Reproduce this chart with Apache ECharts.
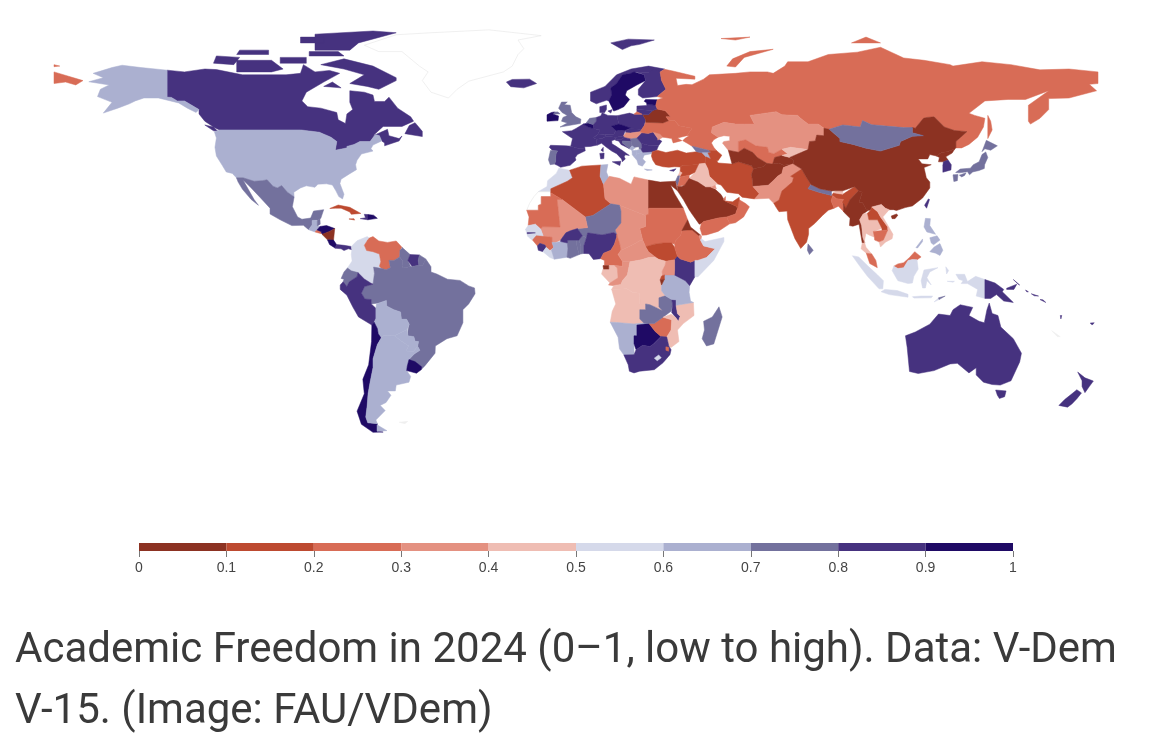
<!DOCTYPE html>
<html>
<head>
<meta charset="utf-8">
<title>Academic Freedom in 2024</title>
<script src="https://cdn.jsdelivr.net/npm/echarts@6/dist/echarts.min.js"></script>
<style>
  html, body { margin: 0; padding: 0; background: #fff; }
  #chart { width: 1161px; height: 755px; }
</style>
</head>
<body>
<div id="chart"></div>
<script>
// scores, one mid-bin value per country
const americasNames = ['Canada','United States','Mexico','Guatemala','Belize','El Salvador','Honduras','Nicaragua','Costa Rica','Panama','Cuba','Haiti','Dominican Republic','Jamaica','Colombia','Venezuela','Guyana','Suriname','French Guiana','Brazil','Ecuador','Peru','Bolivia','Paraguay','Chile','Argentina','Uruguay']
const americasScores = [0.85,0.65,0.75,0.65,0.75,0.25,0.95,0.05,0.95,0.85,0.15,0.85,0.95,0.15,0.55,0.25,0.75,0.85,0.75,0.75,0.75,0.85,0.65,0.65,0.95,0.65,0.95]

const europeNames = ['Iceland','Norway','Sweden','Finland','Denmark','United Kingdom','Ireland','France','Spain','Portugal','Belgium','Netherlands','Luxembourg','Germany','Switzerland','Austria','Italy','Poland','Czechia','Slovakia','Hungary','Slovenia','Croatia','Bosnia','Serbia','Montenegro','Albania','North Macedonia','Greece','Bulgaria','Romania','Moldova','Ukraine','Belarus','Lithuania','Latvia','Estonia','Russia','Cyprus']
const europeScores = [0.85,0.85,0.95,0.85,0.85,0.75,0.95,0.85,0.85,0.75,0.95,0.75,0.85,0.85,0.85,0.85,0.85,0.85,0.95,0.85,0.35,0.85,0.85,0.75,0.75,0.65,0.65,0.65,0.65,0.85,0.85,0.35,0.25,0.05,0.85,0.85,0.95,0.25,0.85]

const asiaNames = ['Turkey','Georgia','Armenia','Azerbaijan','Iran','Iraq','Syria','Lebanon','Israel','Jordan','Saudi Arabia','Yemen','Oman','UAE','Qatar','Kuwait','Kazakhstan','Uzbekistan','Turkmenistan','Tajikistan','Kyrgyzstan','Afghanistan','Pakistan','India','Nepal','Bhutan','Bangladesh','Sri Lanka','China','Mongolia','North Korea','South Korea','Japan','Taiwan','Myanmar','Thailand','Laos','Vietnam','Cambodia','Malaysia','Indonesia','Philippines','Timor-Leste']
const asiaScores = [0.15,0.75,0.65,0.15,0.15,0.45,0.15,0.45,0.75,0.25,0.05,0.25,0.25,0.15,0.25,0.35,0.35,0.25,0.05,0.05,0.45,0.05,0.35,0.15,0.75,0.45,0.25,0.75,0.05,0.75,0.05,0.85,0.75,0.85,0.05,0.45,0.15,0.45,0.25,0.25,0.55,0.65,0.75]

const africaNames = ['Morocco','Algeria','Tunisia','Libya','Egypt','Sudan','South Sudan','Chad','Niger','Mali','Mauritania','Senegal','Gambia','Guinea-Bissau','Guinea','Sierra Leone','Liberia','Ivory Coast','Ghana','Togo','Benin','Burkina Faso','Nigeria','Cameroon','Equatorial Guinea','Central African Republic','Gabon','Congo','DR Congo','Angola','Namibia','Botswana','Zimbabwe','Zambia','Malawi','Mozambique','Tanzania','Kenya','Uganda','Rwanda','Burundi','Ethiopia','Eritrea','Djibouti','Somalia','Madagascar','South Africa','Lesotho','Eswatini']
const africaScores = [0.55,0.15,0.65,0.35,0.05,0.25,0.15,0.35,0.75,0.35,0.25,0.55,0.85,0.55,0.25,0.85,0.55,0.65,0.75,0.75,0.75,0.85,0.85,0.25,0.05,0.35,0.45,0.35,0.45,0.45,0.65,0.95,0.25,0.75,0.85,0.45,0.65,0.85,0.35,0.15,0.05,0.25,0.05,0.35,0.55,0.75,0.85,0.55,0.25]

const oceaniaNames = ['Australia','New Zealand','Papua New Guinea','Solomon Islands','Vanuatu','Fiji']
const oceaniaScores = [0.85,0.85,0.85,0.85,0.85,0.85]

// no score in the source, drawn pale or as outline only
const outlineOnlyNames = ['Greenland','Western Sahara','Kosovo']
const paleNames = ['Falkland Islands','New Caledonia']

const binColors = ['#8c3222','#bd4a30','#d86c56','#e49181','#efbdb3','#d5d9ea','#abb0d0','#73719d','#46327f','#1f0a65']
const binEdges = [0,0.1,0.2,0.3,0.4,0.5,0.6,0.7,0.8,0.9,1]

// country outlines as lon,lat rings; | starts a new polygon, # a hole in the last one
const countryOutlines = {
  Canada:'-141,69.6 -135,69 -128,70 -124,69.8 -115,68 -108,68 -100,68 -95,68.5 -94,71.5 -90,69 -85,69.5 -81.5,68.5 -87,65.5 -93,62 -94.5,59 -92.5,57 -88,56.5 -82.5,55 -82,52.5 -79.5,51.2 -79,54.5 -77,56 -78,58.5 -78,62.5 -73,62 -70,61 -69.5,58.8 -66,58.8 -64.5,60.3 -61.5,56.5 -57,53.5 -56,52 -60,50.2 -66.5,50.2 -70,47 -65,49.2 -64.5,47 -61,46 -60,46.9 -61,45.2 -66,43.5 -66,44.5 -67,45.2 -67.8,47 -69.2,47.4 -71,45 -74.5,45 -76.5,44 -79,43.3 -79,42.8 -83,42 -82.5,45 -84.5,46.5 -88.5,48.2 -95,49 -123,49 -125,50 -128,52 -130,54.5 -130,56 -135,59 -137.5,59 -139.5,60.2 -141,60.3|-62,66 -68,63 -72,64 -78,65 -73,68 -80,70 -88,71.5 -80,73.5 -70,71 -62,67|-117,69 -105,69 -101,70 -105,73 -117,73|-125,72 -118,71.5 -116,74 -124,74.5|-90,76.5 -78,76.5 -75,79 -62,82.5 -70,83.1 -90,82|-92,74.5 -80,74.5 -82,76 -92,76|-102,72 -93,72 -93,74 -102,74|-117,75 -106,75 -106,76.5 -116,76.5|-95,79 -87,79 -87,81 -95,81|-87,64 -81,63.5 -84,65.5|-59,47.7 -53,46.7 -53,48.5 -55.5,51.5 -57.5,50.5|-128,50.7 -125,50 -123.5,48.5 -125,48.7',
  'United States':'-124.7,48.4 -123,49 -95,49 -88.5,48.2 -84.5,46.5 -82.5,45 -83,42 -79,42.8 -79,43.3 -76.5,44 -74.5,45 -71,45 -69.2,47.4 -67.8,47 -67,45.2 -70,43.8 -70.7,42.5 -70,41.7 -74,40.7 -75.5,38.5 -76,37 -75.7,35.3 -78,33.9 -81,32 -81.4,30.5 -80,26.8 -80.5,25.2 -81.8,26 -82.8,28 -84,30 -86,30.4 -89,30.3 -90,29.2 -93,29.7 -95,29 -97.3,27.5 -97.2,25.9 -99.5,27.5 -101.5,29.8 -103,29 -104.5,29.6 -106.5,31.8 -108.2,31.5 -111,31.3 -114.8,32.5 -117.1,32.5 -118.5,34 -120.6,34.5 -122,36.8 -124,40 -124.5,43 -124,46.2|-141,69.6 -141,60.3 -139.5,60.2 -137.5,59 -135,59 -130,56 -131,55 -134,56.5 -137,58.3 -144,60 -149,60 -152,59 -154,58 -158,56.5 -163,54.8 -160,58.5 -165,60.5 -164,63 -161,64.5 -168,65.6 -163,67 -166.5,68.5 -160,70.5 -156.5,71.3 -150,70.5',
  Greenland:'-73,78.2 -68,76 -60,76 -54,71 -51,69 -53,66 -50,62 -44,60 -41,63 -37,65.8 -25,69 -22,71 -20,75 -18,77 -20,80 -12,81.5 -30,83.5 -50,82.5 -62,81.8',
  Mexico:'-117.1,32.5 -114.8,32.5 -111,31.3 -108.2,31.5 -106.5,31.8 -104.5,29.6 -103,29 -101.5,29.8 -99.5,27.5 -97.2,25.9 -97.8,22.5 -96,19 -94.5,18.2 -91.5,18.6 -90.5,21 -87,21.5 -88,18.5 -89,17.9 -91,17.8 -91,16.2 -92.2,14.6 -94,16.1 -98,16 -102,18 -105.5,20 -105.5,22 -109,25.8 -112.5,29.5 -114.8,31.7 -113,28.5 -111,25 -109.5,23 -112,25 -115,28.5 -116.5,31',
  Guatemala:'-92.2,14.6 -91,16.2 -91,17.8 -89.2,17.8 -89.2,15.9 -88.3,15.7 -89.3,14.5 -90,13.8',
  Belize:'-89.2,17.8 -88.3,18.4 -88.2,16.5 -89.2,15.9',
  'El Salvador':'-90,13.8 -89.3,14.5 -87.8,13.9 -87.8,13.2',
  Honduras:'-89.3,14.5 -88.3,15.7 -86,16 -83.2,15 -85,14 -87.3,13 -87.8,13.4 -87.8,13.9',
  Nicaragua:'-87.6,13 -85,14 -83.2,15 -83.6,11 -85.7,11.1',
  'Costa Rica':'-85.7,11.1 -83.6,11 -82.6,9.5 -83,8.2 -85,9.5',
  Panama:'-83,8.2 -82.6,9.5 -80,9.2 -77.5,8.8 -77.3,7.7 -78.5,8 -80,7.4 -81,8',
  Cuba:'-84.9,21.9 -82,23.1 -78,22.3 -74.2,20.2 -77.5,19.9 -78,20.7 -81,22 -83,22',
  Haiti:'-74.4,18.4 -71.8,18 -71.7,19.8 -73,19.9 -72.6,18.7',
  'Dominican Republic':'-71.8,18 -68.5,18.5 -69.8,19.6 -71.7,19.8',
  Jamaica:'-78.3,18.3 -76.3,17.9 -76.6,18.4',
  Colombia:'-77.3,7.7 -77.5,8.8 -75.5,10.8 -72,12.2 -71.3,11.7 -72.5,10 -73,9.2 -72.2,7.4 -70,7 -67.8,6.2 -67.3,3.5 -67.8,2 -67,1.2 -69.8,1.7 -69.5,-0.5 -70,-4.2 -70.8,-3.8 -73,-2.4 -75.2,-0.2 -77.5,0.4 -78.8,1.4 -77.2,3.8 -77.5,6',
  Venezuela:'-71.3,11.7 -70,12.2 -68,10.7 -65,10.2 -62,10.7 -60,8.5 -59.9,8.3 -60.7,7.5 -60.8,5.2 -62.8,4 -64.5,4 -64,1.5 -65.5,0.8 -67,1.2 -67.8,2 -67.3,3.5 -67.8,6.2 -70,7 -72.2,7.4 -73,9.2 -72.5,10#-72,10.9 -71.2,10.9 -71,9.5 -71.8,9.3',
  Guyana:'-60,8.5 -57.2,6 -58,4 -57,1.9 -59.5,1.4 -60,2 -59.8,4 -60.8,5.2 -60.7,7.5 -59.9,8.3',
  Suriname:'-57.2,6 -54,5.9 -54.4,4 -54.2,2.3 -56.5,1.9 -58,4',
  'French Guiana':'-54,5.9 -51.8,4.5 -52.9,2.2 -54.2,2.3 -54.4,4',
  Brazil:'-51.8,4.5 -50,1.8 -50,0 -48,-0.7 -44.3,-2.5 -40,-2.9 -37,-4.8 -35,-5.5 -34.8,-7.5 -37,-11 -39,-13 -39,-17.5 -41,-22 -44.5,-23 -48.5,-25.5 -48.6,-28 -52,-32.2 -53.4,-33.7 -53.2,-32.7 -55.5,-30.9 -57.6,-30.2 -55.8,-28.3 -53.8,-27 -54.6,-25.6 -54.3,-24 -55.5,-23.9 -55.9,-22.3 -58,-22 -57.9,-20 -58.2,-19.8 -57.5,-18 -58.4,-16.3 -60.2,-16.3 -60.5,-13.8 -62.8,-13 -65.3,-11.7 -65.4,-9.8 -68,-10.7 -70.6,-11 -70.6,-9.5 -72.8,-9.3 -74,-7.3 -72.9,-5 -70,-4.2 -69.5,-0.5 -69.8,1.7 -67,1.2 -65.5,0.8 -64,1.5 -64.5,4 -62.8,4 -60.8,5.2 -59.8,4 -60,2 -59.5,1.4 -57,1.9 -56.5,1.9 -54.2,2.3 -52.9,2.2',
  Ecuador:'-78.8,1.4 -77.5,0.4 -75.2,-0.2 -75.5,-1.6 -78.2,-3.4 -79,-5 -80.3,-3.4 -80,-2.5 -81,-2.2 -80,0',
  Peru:'-80.3,-3.4 -79,-5 -78.2,-3.4 -75.5,-1.6 -75.2,-0.2 -73,-2.4 -70.8,-3.8 -70,-4.2 -72.9,-5 -74,-7.3 -72.8,-9.3 -70.6,-9.5 -70.6,-11 -69,-12.5 -69,-16 -69.6,-17.3 -70.4,-18.3 -75,-15.5 -77,-12 -79,-8 -81.3,-6 -81.3,-4.5',
  Bolivia:'-69,-16 -69,-12.5 -68.8,-11 -65.4,-9.8 -65.3,-11.7 -62.8,-13 -60.5,-13.8 -60.2,-16.3 -58.4,-16.3 -57.5,-18 -58.2,-19.8 -62.6,-22 -64,-22 -66.2,-21.8 -67.2,-22.8 -68.2,-21.3 -68.5,-19.5 -69.6,-17.3',
  Paraguay:'-58.2,-19.8 -57.9,-20 -58,-22 -55.9,-22.3 -55.5,-23.9 -54.3,-24 -54.6,-25.6 -56,-27.3 -58.6,-27.2 -57.7,-25.5 -60,-24 -62.6,-22',
  Chile:'-69.6,-17.3 -68.5,-19.5 -68.2,-21.3 -67.2,-22.8 -68.5,-25 -70,-30 -70,-33 -71,-38 -71.7,-42 -72,-46 -72.5,-50 -71.8,-52 -68.5,-52.3 -68.6,-54.9 -66.5,-55.2 -70,-55.3 -74,-52.5 -75.5,-48 -73,-42 -73.5,-37 -71.5,-32 -70.5,-24 -70.4,-18.3',
  Argentina:'-66.2,-21.8 -64,-22 -62.6,-22 -60,-24 -57.7,-25.5 -58.6,-27.2 -56,-27.3 -54.6,-25.6 -53.8,-27 -55.8,-28.3 -57.6,-30.2 -58.2,-32.5 -58.4,-34 -57,-36 -57.6,-38 -62,-39 -62.3,-41 -65,-41 -63.8,-42.5 -65.5,-45 -67.5,-46 -65.8,-47.8 -69,-51 -68.5,-52.3 -71.8,-52 -72.5,-50 -72,-46 -71.7,-42 -71,-38 -70,-33 -70,-30 -68.5,-25 -67.2,-22.8|-68.6,-52.7 -65.2,-54.7 -68.6,-54.9',
  Uruguay:'-57.6,-30.2 -55.5,-30.9 -53.2,-32.7 -53.4,-33.7 -55,-34.9 -58.4,-34 -58.2,-32.5',
  'Falkland Islands':'-61,-51.8 -58,-51.5 -59,-52.3',
  Iceland:'-24,65.5 -22,66.4 -16,66.5 -13.6,65 -18,63.5 -22.5,63.9',
  Norway:'5,59 7,58 10.5,59.2 11.3,59 12.3,61 12,63.5 14,65 16,68 19,68.5 21,69 25,68.8 29,69 30.5,70 25,71 19,70 14,68 10,64 5,62|12,79 16,76.7 19,78 22,78.5 27,80 18,80.3',
  Sweden:'11.3,59 13,55.5 14.5,56 16.5,57 18.5,59.5 17,61 17.5,62.5 21,64.5 24,66 23.5,68 20,69 19,68.5 16,68 14,65 12,63.5 12.3,61',
  Finland:'24,66 21.5,63 21.5,61 23,60 28,60.5 31,63 29.5,66 29,69 27,70 25,68.8 21,69 23.5,68',
  Denmark:'8.2,55 8.2,57 10.5,57.6 10.5,56 9.8,54.9|11,55.5 12.5,56 12,54.8',
  'United Kingdom':'-5.5,50 1.5,51.2 1.7,52.7 0,53.5 -1.5,55 -2,57.5 -4,57.7 -3,58.6 -5,58.6 -6,56.5 -4.8,55 -3,54 -4.5,53.3 -5,52 -3,51.4|-8,54.5 -5.5,54.5 -6.2,55.2 -7.5,55.2',
  Ireland:'-10,52 -6.2,52.2 -6,53.8 -6.2,54.1 -8,54.5 -7.5,55.2 -8.5,55 -10,54.2',
  France:'-1.8,43.4 -1.2,46 -4.7,48.4 -1.5,48.7 0,49.5 2.5,51 4.2,50 6,49.5 8.2,49 7.6,47.6 6,46.3 7,45.8 7,44.2 7.5,43.8 5,43.3 3,43.2 3.1,42.4 0.7,42.7|8.6,42 9.4,43 9.4,41.5',
  Spain:'-9.2,43 -8.8,43.7 -3.5,43.5 -1.8,43.4 0.7,42.7 3.1,42.4 3.2,41.8 0.5,40.5 -0.3,39.4 0,38.6 -2,36.8 -5.3,36.1 -6.3,36.7 -7.4,37.2 -7,38.2 -7,39.7 -6.8,41 -6.3,41.7 -8.2,42',
  Portugal:'-8.8,41.9 -6.3,41.7 -6.8,41 -7,39.7 -7,38.2 -7.4,37.2 -8.9,37 -9.5,38.7',
  Belgium:'2.5,51 4.2,51.4 6,50.8 6,49.5 4.2,50',
  Netherlands:'3.5,51.4 4.7,53 7,53.3 7,52 6,50.8 4.2,51.4',
  Germany:'6,50.8 7,52 7,53.3 8.6,53.9 9,54.9 11,54 14.2,53.9 14.7,51 12.2,50.3 13.8,48.7 13,47.5 7.6,47.6 8.2,49 6,49.5',
  Luxembourg:'5.8,49.5 6.4,49.5 6.1,50.1',
  Switzerland:'6,46.3 7.6,47.6 9.6,47.5 10.4,46.8 9,46 7,45.8',
  Austria:'9.6,47.5 13,47.5 13.8,48.7 15,49 17,48.8 16.3,46.9 13.8,46.5 10.4,46.8',
  Italy:'7,45.8 9,46 10.4,46.8 13.8,46.5 13.6,45.7 12.3,45.3 12.4,44.2 13.6,43.5 16,41.9 18.4,40.2 17,40.4 16.6,39.7 17,39 16,38 15.7,39 14,40.8 12.3,41.7 10.5,43 8.8,44.4 7.5,43.8 7,44.2|12.5,38 15.5,38.2 15.1,36.7|8.2,40.9 9.7,41 9.6,39.1 8.5,39',
  Poland:'14.2,53.9 18.5,54.8 19.8,54.4 23,54.3 24,52.5 23.5,50.4 22.6,49.1 19,49.4 14.7,51',
  Czechia:'12.2,50.3 14.7,51 16.5,50.4 18.8,49.6 17,48.8 15,49 13.8,48.7',
  Slovakia:'17,48.8 18.8,49.6 19,49.4 22.5,49.1 22.1,48.4 18.8,47.9 17.2,48',
  Hungary:'16.3,46.9 17.2,48 18.8,47.9 22.1,48.4 22.8,48 21,46.2 18.8,45.9 16.6,46.4',
  Slovenia:'13.6,45.5 13.8,46.5 16.3,46.9 16.6,46.4 15.5,45.7',
  Croatia:'13.6,45.5 15.5,45.7 16.6,46.4 18.8,45.9 19,45 16,45.2 16,44.5 18.5,42.5 15.5,44 14.8,45.1',
  Bosnia:'16,45.2 19,45 19.3,43.5 18.5,42.5 16,44.5',
  Serbia:'19,45 18.8,45.9 21,46.2 22.6,44.3 22.8,43 22.4,42.3 21.7,42.3 21.5,43 20.3,42.8 19.3,43.5',
  Kosovo:'20.3,42.8 21.5,43 21.7,42.3 20.6,41.9',
  Montenegro:'18.5,42.5 19.3,43.5 20.3,42.8 19.3,41.9',
  Albania:'19.3,41.9 20.6,41.9 21,40.8 20.1,39.6 19.4,40.4',
  'North Macedonia':'20.6,41.9 22.4,42.3 23,41.3 21,40.8',
  Greece:'21,40.8 23,41.3 26.3,41.5 26,40.8 23.5,40.3 23,39 24,38 22.9,36.5 21.5,37 21,38.5 20.1,39.6|23.6,35.5 26.3,35.2 24.5,35',
  Bulgaria:'22.6,44.3 25,43.7 28.5,43.6 27.8,42 26.3,41.5 23,41.3 22.4,42.3 22.8,43',
  Romania:'21,46.2 22.8,48 24.9,47.8 26.6,48.3 28.2,46 29.6,45.1 28.6,43.7 25,43.7 22.6,44.3',
  Moldova:'26.6,48.3 29,47.6 30,46.5 28.2,45.5 28.2,46',
  Ukraine:'23.5,50.4 24,51.6 30,51.4 32,52.2 34,52.2 35.5,50.4 40,49.6 38.2,47 35,46.2 36.5,45.3 33.5,44.5 33,46 30.7,46.4 30,46.5 29,47.6 26.6,48.3 24.9,47.8 22.8,48 22.1,48.4 22.6,49.1',
  Belarus:'23,54.3 24,52.5 24,51.6 30,51.4 32,52.2 31,53.5 32.7,53.5 30.8,55.6 28,56.2 26.5,55.7 25,54.2',
  Lithuania:'21,56 26.5,55.7 25,54.2 23,54.3 22.8,54.4 21,55.3',
  Latvia:'21,56 21,57.2 24.4,57.4 24.4,57.9 27.5,57.5 28,56.2 26.5,55.7',
  Estonia:'23.5,58.9 24.4,58.3 24.4,57.9 27.5,57.5 28,59.4 24,59.5',
  Russia:'28,59.4 27.5,57.5 28,56.2 30.8,55.6 32.7,53.5 31,53.5 32,52.2 34,52.2 35.5,50.4 40,49.6 38.2,47 39,47 37.5,46 36.8,45.3 38.5,44.3 40,43.4 43.5,42.5 46,41.9 48.5,41.8 47.5,43 46.7,44.5 47.5,45.6 49,46.5 46.7,48 47,50 48.5,50.6 51,51.6 55,51 58,51 61.5,51 60,54 69,55.3 71,54.2 76.5,54 77,53.4 80,51 83.5,51 85.5,49.6 87.3,49.2 92,50.7 98,50 98.8,52.2 102,50.8 106,50.4 113,49.8 117,49.6 119.8,53 121,53.3 123.5,53.5 127,50 130.5,48.8 134.8,48.4 131,45 131,42.8 133,42.8 135.5,44 138.5,46.5 140.5,50 141,53 137.5,54 135.5,54.7 141,59 149,59.5 155,59.5 163,62.5 156,57.5 156,52 156.7,51 160,53 163,56 163,59.8 170,60 179.5,62.5 177,64.7 180,65 180,69 170,70 160,69.7 150,71.5 140,72.5 130,71 129,71.5 120,73 113,73.8 105,77.5 97,75.8 87,75 80,72.5 73,72.5 72,71 68,68.5 66,69 60,69 55,68.5 46,68 44,66.5 40,64.6 38,64.7 35,64.3 34.5,66.8 41,66.5 41,67.5 33,69.4 30.5,69.9 29,69 29.5,66 31,63 28,60.5 30,60|20,54.4 22.8,54.4 21,55.3|142,54 143,52 143.5,49 142,46 142,50|52,71 55,70.7 58,74 68,76.8 60,76 54,73.5|95,79 105,79 100,81|-180,65 -180,69 -175,67.5 -170,66 -172.5,64.5 -176,65.5|-180,71.5 -178,71 -180,70.8|50,80.5 60,81 55,80',
  Cyprus:'32.3,35 34.5,35.6 33.7,34.7',
  Turkey:'26.3,41.5 28,42 31,41.2 35,42 38,41 41.5,41.5 43.5,41.1 44.8,39.7 44.5,37.5 42.3,37.2 40,36.9 36.7,36.8 36,36.2 34,36.3 32,36.1 30,36.3 27.5,37 26.5,38.5 26,40',
  Georgia:'40,43.4 43.5,42.5 46,41.9 46.5,41.2 43.5,41.1 41.5,41.5',
  Armenia:'43.5,41.1 45.5,41 46.5,39 44.8,39.7',
  Azerbaijan:'46.5,41.2 46,41.9 48.5,41.8 50.3,40.3 49,38.4 46.5,39 45.5,41',
  Iran:'44.8,39.7 46.5,39 48,39.5 49,37.6 53.8,37.2 56,38 60.5,36.6 61.2,35.6 60.5,33.6 60.9,31.5 61,29.5 63.2,27 61.6,25.2 57.3,25.8 56,27 52,27.5 50,30 48.7,30.4 46,33 45.5,35.5 44.5,37.5',
  Iraq:'42.3,37.2 44.5,37.5 45.5,35.5 46,33 48.7,30.4 48,29.9 46.5,29.2 44.7,29.2 42,31 39,32.2 41,34.4',
  Syria:'36,36.2 36.7,36.8 40,36.9 42.3,37.2 41,34.4 39,33.4 36,32.8 35.9,34.6',
  Lebanon:'35.1,33.1 36,33.3 36.6,34.2 35.9,34.6',
  Israel:'34.3,31.3 35,29.5 35.6,31.5 35.7,33.2 35.1,33.1',
  Jordan:'35,29.5 37.5,30 39,32.2 39,33.4 36,32.8 35.6,31.5',
  'Saudi Arabia':'35,29.5 36.5,29.5 37.5,30 39,32.2 42,31 44.7,29.2 46.5,29.2 48,28.5 50,26.7 51.3,24.5 55.2,22.7 55.7,22 55,20 52,19 49,18.6 44,17.4 43.2,16.7 42.5,16.5 40,20 39,21.5 37,25 35,28',
  Yemen:'43.2,16.7 44,17.4 49,18.6 52,19 53,16.6 49,14 45,12.8 43.5,12.7 42.8,15',
  Oman:'52,19 55,20 55.7,22 56.3,24.9 58.5,23.6 59.8,22.5 57.8,19 55,17 53,16.6',
  UAE:'51.3,24.5 55.2,22.7 55.7,22 56.3,24.9 56.3,25.8 54,24.2',
  Qatar:'50.8,24.8 51.5,26 51.5,24.8',
  Kuwait:'46.5,29.2 48,29.9 48.4,28.6',
  Kazakhstan:'47,50 46.7,48 49,46.5 51,47 53,46.8 53,45.3 51,45 50.5,44.5 52.5,42 56,41.3 56,45 58.5,45.6 62,43.5 66,43 66.5,41.2 68.2,40.8 71,42.3 74,43 80,42.2 80.5,45 82.5,45.2 83,47.2 85.5,47 85.5,49.6 83.5,51 80,51 77,53.4 76.5,54 71,54.2 69,55.3 60,54 61.5,51 58,51 55,51 51,51.6 48.5,50.6',
  Uzbekistan:'56,45 58.5,45.6 62,43.5 66,43 66.5,41.2 68.2,40.8 71,42.3 73,40.8 71,40.2 68.5,39.5 67.8,37.2 65.8,37.5 62.5,39.5 61,41.2 58,42.7 56,41.3',
  Turkmenistan:'52.5,42 56,41.3 58,42.7 61,41.2 62.5,39.5 65.8,37.5 64.5,36.3 61.2,35.6 60.5,36.6 56,38 53.8,37.2 53.2,39.5',
  Tajikistan:'68.5,39.5 71,40.2 73.7,39.5 75,38.5 74.9,37.3 71.5,36.8 70,37.6 67.8,37.2',
  Kyrgyzstan:'71,42.3 74,43 80,42.2 76,40.5 73.7,39.5 71,40.2 73,40.8',
  Afghanistan:'61.2,35.6 64.5,36.3 65.8,37.5 67.8,37.2 70,37.6 71.5,36.8 74.9,37.3 71.5,36 71,34 69.5,33 68,31.5 66.3,29.9 61,29.5 60.9,31.5 60.5,33.6',
  Pakistan:'61,29.5 66.3,29.9 68,31.5 69.5,33 71,34 71.5,36 74.9,37.3 77.8,35.5 74,33 75,32.5 74.6,31 71,27.9 70,24.8 68.2,23.7 66.5,25.4 61.6,25.2 63.2,27',
  India:'68.2,23.7 70,24.8 71,27.9 74.6,31 75,32.5 74,33 77.8,35.5 79.5,32.5 81,30.2 80,28.7 84,27.4 88.1,26.4 88.8,27.3 92,26.8 96,29.4 97.4,28 94.5,25 93,22 92.2,23.7 91.5,24 92.3,25 89.8,25.3 88.5,26.4 88,24.5 89,22 87,21.3 85,19.5 82.3,16.7 80.2,15 80.2,13 79.5,10.3 77.5,8.1 75.5,11.5 73,18 72.8,21 70,20.8 69,22.3',
  Nepal:'80,28.7 81,30.2 84,28.7 88.1,27.9 88.1,26.4 84,27.4',
  Bhutan:'88.8,27.3 92,26.8 92,28 89.5,28',
  Bangladesh:'88,24.5 88.5,26.4 89.8,25.3 92.3,25 91.5,24 92.2,23.7 92.4,20.7 90.5,22.7 89,22',
  'Sri Lanka':'80,9.7 81.8,7.5 80.5,6 79.8,7.5',
  China:'73.7,39.5 76,40.5 80,42.2 80.5,45 82.5,45.2 83,47.2 85.5,47 85.5,49.6 87.3,49.2 91,46 91,45 95.5,44 100,42.7 105,41.7 111.5,43.7 111.9,45 116,46.8 119.8,47 116,48 116,49.8 117,49.6 119.8,53 121,53.3 123.5,53.5 127,50 130.5,48.8 134.8,48.4 131,45 131,42.8 130.6,42.4 128,41.5 126,41.2 124.3,40 122,40.5 121.3,39 118,39 119.3,37.3 122.5,37 120,36 120.8,32.5 122,31 122,29 119.5,25.5 116,22.8 113.5,22.2 110.5,21.2 109.5,21.5 108,21.5 106.7,22 105.3,23.3 102,22.4 101.5,21.2 100,21.6 98.8,24 97.6,24 98.7,27.5 97.4,28 96,29.4 92,28 89.5,28 88.1,27.9 84,28.7 81,30.2 79.5,32.5 77.8,35.5 74.9,37.3 75,38.5|108.7,19.3 110.5,20 111,19.6 110,18.4 109,18.4',
  Mongolia:'87.3,49.2 92,50.7 98,50 98.8,52.2 102,50.8 106,50.4 113,49.8 116,49.8 116,48 119.8,47 116,46.8 111.9,45 111.5,43.7 105,41.7 100,42.7 95.5,44 91,45 91,46',
  'North Korea':'124.3,40 126,41.2 128,41.5 130.6,42.4 129.7,41 127.5,39.7 128.3,38.6 126.7,38 125,38 125.3,39.5',
  'South Korea':'126.7,38 128.3,38.6 129.4,37 129.3,35.2 126.5,34.4 126.5,36.8',
  Japan:'130.9,34.3 132.5,35.5 136,35.8 137,37 139,38 140,40.5 141.3,41.4 142,39.5 140.9,37 140.8,35.7 139,35 136.8,34.5 135.7,33.5 135,34.6 132.3,34.2|130,33.5 131.7,33.6 131.5,31.5 130.3,31.2|132.2,33.4 134.5,34.2 134,33.3 133,32.8|140,41.5 141.5,45.4 145.3,43.5 143,42 141,42.5',
  Taiwan:'120.2,23 121.5,25.2 121.9,25 120.9,22',
  Myanmar:'92.3,20.7 92.2,23.7 93,22 94.5,25 97.4,28 98.7,27.5 97.6,24 98.8,24 100,21.6 101.1,21.5 99,20 97.8,18 98.5,16 98.9,12 99.6,10 98.7,10 97.6,16.5 95.5,15.8 94.3,16 94.5,18.5',
  Thailand:'97.8,18 99,20 100.5,20.3 101,18 104,18 105.5,15 102.5,14 102.9,12 101,12.8 100,13.4 99.4,10.5 100,8.5 102,6.2 100.1,6.5 98.3,8 98.7,10 99.6,10 98.9,12 98.5,16',
  Laos:'100.5,20.3 101.5,21.2 102,22.4 104,20.8 105,19 107.5,15.5 107.5,14.5 105.5,14.3 105.5,15 104,18 101,18',
  Vietnam:'102,22.4 105.3,23.3 106.7,22 108,21.5 105.8,19 107,17 109.3,13 109,11.5 106.7,10.3 105,8.6 104.5,10.4 106,11 107.5,14.5 107.5,15.5 105,19 104,20.8',
  Cambodia:'102.9,12 102.5,14 105.5,14.3 107.5,14.5 106,11 104.5,10.4 103,11',
  Malaysia:'100.1,6.5 102,6.2 103.4,4 103.9,1.5 101.3,2.9|109.6,2 111,1.2 113,1.5 114.5,4 116,4.3 117.6,4.2 119,5.2 116.8,7 115,5 113,3.2 111,2.8',
  Indonesia:'109.6,2 111,1.2 113,1.5 114.5,4 116,4.3 117.6,4.2 118,1 116.5,-1.5 116,-3.8 114.5,-4 111,-3 110,-1.3 109,0.5|95.3,5.6 97.5,5.2 100.5,2.2 104,-1 106,-3 105.8,-5.8 104.5,-5.8 100.5,-1.5 97.5,2.5|105.2,-6.8 106.5,-6 110.8,-6.4 114.5,-7.7 114.5,-8.7 108,-7.8|119.5,-5.5 119,-3 120,0.7 124.8,1.5 122,0 121,-2 122.5,-4.5 121,-3 120.5,-5.5|131,-0.8 134,-0.8 135,-3.3 137.8,-1.5 141,-2.6 141,-9.1 138,-8.3 138.5,-6 135,-4 132.8,-4 133.5,-3 132,-2.5|116,-8.5 119,-8.3 123,-8.3 122.5,-8.9 116.5,-9|123.5,-10.3 125,-9 125.2,-9.5|127.5,1.8 128.5,0.5 127.8,-0.7|128,-3.2 130.5,-3.2 130,-3.5',
  'Timor-Leste':'125,-8.9 127.3,-8.3 125.2,-9.5',
  Philippines:'120.5,18.5 122.2,18.4 122,16 124,13 123.8,12.9 121,13.8 120,15.5|122,7 123.5,8.6 125.5,9.8 126.5,7.5 125.5,5.7 124,6.5|122,11.8 124.5,12.5 125.5,11 123.3,9.4 122.5,10|117.2,8.4 119.5,11.4 119.5,10.5 117.8,8.3',
  'Papua New Guinea':'141,-2.6 144.5,-3.8 147.5,-6 147,-6.8 150.8,-10.5 147.5,-10 145,-7.8 143,-9.1 141,-9.1|148.5,-5.6 152,-4.2 151,-6 148.5,-6|150.8,-2.6 153,-4.5 152.5,-4.2',
  'Solomon Islands':'155,-6.2 156,-6.8 155.5,-6.9|157,-7.5 159.5,-8.3 158,-8.2|160,-9.5 162,-10.5 161,-9.6',
  Vanuatu:'167,-15 167.5,-15 167.2,-16.2',
  Fiji:'177.3,-17.6 178.7,-17.5 178,-18.3',
  'New Caledonia':'164,-20.2 167,-22.3 166,-22.3',
  Australia:'113.6,-22 114.2,-26 115,-34.3 118,-35 123.5,-34 129,-31.7 131.5,-31.5 135.5,-34.8 138,-33 138,-35.5 140.5,-38 143.5,-38.8 146.3,-39 150,-37.5 153,-31 153.6,-28 150.8,-23 146.5,-19 145.5,-15 143.5,-14.3 142.5,-10.7 141.7,-13 140.8,-17.5 139,-17 135.5,-15 136.8,-12.2 132.5,-11.3 130,-13 129,-15 125,-14.5 122,-18 117,-20.7|144.7,-40.7 148.3,-41 147.8,-43 146,-43.6 145.3,-42.5',
  'New Zealand':'173,-34.5 175.5,-36.5 178.4,-37.6 177,-39.5 175.5,-41.6 174.5,-39.5 174.5,-37.5|172.7,-40.6 174.3,-41.7 172.8,-43.6 171,-45.5 169.5,-46.6 166.5,-46 168.5,-44 171,-42',
  Morocco:'-5.9,35.8 -2.2,35.1 -1.2,32.5 -3,31.3 -8.7,28.7 -8.7,27.7 -13,27.7 -10,29.5 -9.8,31.5 -6.8,34',
  'Western Sahara':'-13,27.7 -8.7,27.7 -8.7,26 -12,26 -12,23.4 -13,23 -13,21.3 -17,21.3 -16,23.7 -14.5,26',
  Algeria:'-2.2,35.1 2,36.5 8.6,36.9 8.3,33 9.5,30.2 10,25.3 12,23.5 5.8,19.5 3.2,19 -4.8,25 -8.7,27.3 -8.7,28.7 -3,31.3 -1.2,32.5',
  Tunisia:'8.6,36.9 11,37.1 10.5,34.5 11.5,32 9.5,30.2 8.3,33',
  Libya:'11.5,33 15,32.3 19,30.3 20,32.8 25,31.7 25,20 24,19.5 15,23 12,23.5 10,25.3 9.5,30.2',
  Egypt:'25,31.7 29,31 34.3,31.3 35,28 32.6,30 34,27 37,22 25,22',
  Sudan:'25,22 37,22 38.5,18 36.5,14.3 36.1,12.7 34.2,10.6 34,9.5 33,10 30,10 27,9.6 24,8.7 23,11 22.5,13 22,15 24,15.7 24,19.5 25,20',
  'South Sudan':'24,8.7 27,9.6 30,10 33,10 34,8.5 35,5.4 34,4.2 31,3.7 28.5,4.4 27.4,5.1 25,7',
  Chad:'15,23 24,19.5 24,15.7 22,15 22.5,13 23,11 22,10.8 18.7,9 15.5,7.5 15,10 14,13 13.5,14.5 15.5,16.9 15.5,21',
  Niger:'12,23.5 15,23 15.5,21 15.5,16.9 13.5,14.5 14,13 13,13.6 9,12.8 4,13.5 3.6,11.8 2.2,12.5 0.5,15 4,15.3 3.2,19 5.8,19.5',
  Mali:'-12.2,14.8 -11.5,15.6 -5.5,15.5 -6.5,25 -4.8,25 3.2,19 4,15.3 0.5,15 -2,14.2 -3.5,13.5 -5.3,11 -7,10.2 -8.3,10.2 -8.3,12 -11.3,12.3',
  Mauritania:'-17,21.3 -13,21.3 -13,23 -12,23.4 -12,26 -8.7,26 -8.7,27.3 -4.8,25 -6.5,25 -5.5,15.5 -11.5,15.6 -12.2,14.8 -14,16.5 -16.5,16 -16.2,19',
  Senegal:'-16.5,16 -14,16.5 -12.2,14.8 -11.3,12.4 -16.7,12.4 -17.4,14.7',
  Gambia:'-16.8,13.6 -14,13.5 -14,13.2 -16.8,13.2',
  'Guinea-Bissau':'-16.7,12.4 -13.7,12.5 -14,11 -15.5,11.2',
  Guinea:'-13.7,12.5 -11.3,12.3 -8.3,12 -8.3,10.2 -7.7,8.5 -9,7.4 -10.3,8.5 -10.7,9.3 -12.5,9.9 -13.3,9 -15,11',
  'Sierra Leone':'-13.3,9 -12.5,9.9 -10.7,9.3 -10.3,8.5 -11.4,7 -13,7.5',
  Liberia:'-11.4,7 -10.3,8.5 -9,7.4 -8.5,7.6 -7.5,4.4 -9,5',
  'Ivory Coast':'-8.5,7.6 -7.7,8.5 -8.3,10.2 -7,10.2 -5.3,10.5 -3,10 -2.8,8 -3.1,5.1 -7.5,4.4',
  Ghana:'-3.1,5.1 -2.8,8 -3,10 -2.8,11 0,11 0.5,8 1.1,6 -2,4.7',
  Togo:'0,11 1,11 1.7,9 1.6,6.2 1.1,6 0.5,8',
  Benin:'1,11 2.2,12.5 3.6,11.8 2.7,9 2.7,6.4 1.6,6.2 1.7,9',
  'Burkina Faso':'-5.3,11 -3.5,13.5 -2,14.2 0.5,15 2.2,12.5 1,11 0,11 -2.8,11 -3,10 -5.3,10.5',
  Nigeria:'2.7,6.4 2.7,9 3.6,11.8 4,13.5 9,12.8 13,13.6 14,13 14,12 13.2,9.5 12,7.5 9.5,6.5 8.5,4.6 6,4.3 4.5,6.3',
  Cameroon:'8.5,4.6 9.5,6.5 12,7.5 13.2,9.5 14,12 14,13 15,10 15.5,7.5 14.5,6 16,3.7 16,2 13.3,2.2 9.8,2.3 9.8,4',
  'Central African Republic':'15.5,7.5 18.7,9 22,10.8 23,11 24,8.7 25,7 27.4,5.1 25,5 22.5,4.2 18.6,3.5 16.5,3.5 16,3.7 14.5,6',
  Gabon:'9.3,1 11.3,1 11.3,2.2 13.3,2.2 14.2,1.4 14.5,-2 11.7,-3.8 8.8,-0.7',
  'Equatorial Guinea':'9.3,2.2 11.3,2.2 11.3,1 9.5,1',
  Congo:'11.2,-4.5 11.7,-3.8 14.5,-2 14.2,1.4 13.3,2.2 16,2 16,3.7 16.5,3.5 18.6,3.5 17.7,-1 16,-3 15.5,-4.3 13,-4.7',
  'DR Congo':'12.3,-6 13,-4.7 15.5,-4.3 16,-3 17.7,-1 18.6,3.5 22.5,4.2 25,5 27.4,5.1 28.5,4.4 31,3.7 30.7,2.3 29.7,0.3 29.5,-1.4 29,-2.7 29.5,-4.5 29.5,-6.5 30.8,-8.2 28.6,-8.9 28.6,-12 29.8,-13.4 27.5,-12.2 25.5,-11.3 24,-11 22,-11 22,-9.5 21.8,-7.3 19.5,-7 17.5,-5.8',
  Angola:'12.3,-6 17.5,-5.8 19.5,-7 21.8,-7.3 22,-9.5 22,-11 24,-11 24,-13 22,-13 22,-16.2 23.4,-17.6 20,-17.9 14,-17.4 11.8,-17.3 12.5,-13.5 13.7,-11 13,-8.5',
  Namibia:'11.8,-17.3 14,-17.4 20,-17.9 23.4,-17.6 25.2,-17.8 21,-18.3 21,-22 20,-22 20,-28.5 16.5,-28.6 15,-26.5 14.5,-22.5',
  Botswana:'21,-18.3 25.2,-17.8 27.3,-20.5 29.3,-22.2 26.8,-24.7 25.5,-25.7 23,-25.3 20.7,-26.8 20,-24.7 20,-22 21,-22',
  Zimbabwe:'25.2,-17.8 27,-17.8 30,-15.6 33,-16.5 32.8,-20 31.3,-22.4 29.3,-22.2 27.3,-20.5',
  Zambia:'22,-13 24,-13 24,-11 25.5,-11.3 27.5,-12.2 29.8,-13.4 28.6,-12 28.6,-8.9 30.8,-8.2 33,-9.5 33.3,-11 32.8,-13.5 30,-15.6 27,-17.8 25.2,-17.8 23.4,-17.6 22,-16.2',
  Malawi:'33,-9.5 34.5,-9.6 34.5,-11.5 35,-14.4 35.9,-15.3 35.3,-17 34.3,-15.6 33,-14 33.3,-11',
  Mozambique:'34.5,-11.5 40.5,-10.5 40.7,-15 37,-17.8 35,-20 35.5,-24 32.8,-26 32,-25.5 31.3,-22.4 32.8,-20 33,-16.5 30,-15.6 32.8,-14.6 34.3,-15.6 35.3,-17 35.9,-15.3 35,-14.4',
  Tanzania:'30.5,-1 33.9,-1 37.7,-3 39.2,-4.7 39,-7 39.5,-10 40.5,-10.5 34.5,-11.5 34.5,-9.6 33,-9.5 30.8,-8.2 29.5,-6.5 29.5,-4.5 30.5,-2.5',
  Kenya:'34,4.2 35,5.4 36,4.5 39.5,3.4 41,4 41,-1.6 39.2,-4.7 37.7,-3 33.9,-1 34,0.7',
  Uganda:'31,3.7 34,4.2 34,0.7 33.9,-1 30.5,-1 29.7,-1.4 29.7,0.3 30.7,2.3',
  Rwanda:'29,-2.7 29.5,-1.4 30.5,-1 30.5,-2.5',
  Burundi:'29,-2.7 30.5,-2.5 29.5,-4.5',
  Ethiopia:'36.5,14.3 38.5,14.5 40,14.5 42.4,12.5 42.9,11 44,9 48,8 45,5 42,4 41,4 39.5,3.4 36,4.5 35,5.4 34,8.5 34.2,10.6 36.1,12.7',
  Eritrea:'38.5,18 39.5,15.5 43,12.7 42.4,12.5 40,14.5 38.5,14.5 36.5,14.3',
  Djibouti:'42.4,12.5 43.3,12.5 43.2,11.5 42.9,11',
  Somalia:'42.9,11 43.2,11.5 44.5,10.5 51,11.9 51,10.5 47.5,4 42,-1.7 41,-1.6 41,4 42,4 45,5 48,8 44,9',
  Madagascar:'49.3,-12 50.4,-15.5 47.5,-24.8 45,-25.5 43.5,-23 44.3,-20 44,-17 47,-15.5',
  'South Africa':'16.5,-28.6 20,-28.5 20.7,-26.8 23,-25.3 25.5,-25.7 26.8,-24.7 29.3,-22.2 31.3,-22.4 32,-25.5 32.8,-26.8 32.4,-28.5 30,-31.3 27,-33.7 22,-34.2 20,-34.8 18.4,-34.2 18,-32',
  Lesotho:'27,-29.7 28.5,-28.6 29.4,-29.6 28,-30.6',
  Eswatini:'31,-25.8 32,-26 31.9,-27.3 31,-27'
}

const captionLines = ['Academic Freedom in 2024 (0\u20131, low to high). Data: V-Dem', 'V-15. (Image: FAU/VDem)']

function parseRing(text) {
  return text.trim().split(' ').map(p => p.split(',').map(Number))
}

function buildGeoJson(outlines) {
  const features = Object.keys(outlines).map(name => {
    const polygons = outlines[name].split('|').map(part => part.split('#').map(parseRing))
    return {
      type: 'Feature',
      properties: {name},
      geometry: {type: 'MultiPolygon', coordinates: polygons}
    }
  })
  return {type: 'FeatureCollection', features}
}

function binColor(score) {
  return binColors[Math.min(Math.floor(score * 10), binColors.length - 1)]
}

echarts.registerMap('world', buildGeoJson(countryOutlines))

const allNames = [...americasNames, ...europeNames, ...asiaNames, ...africaNames, ...oceaniaNames]
const allScores = [...americasScores, ...europeScores, ...asiaScores, ...africaScores, ...oceaniaScores]
// the stroke takes the fill colour so neighbours in one bin show no seam
const mapData = allNames.map((name, i) => ({
  name,
  value: allScores[i],
  itemStyle: {borderColor: binColor(allScores[i]), borderWidth: 0.5}
}))
outlineOnlyNames.forEach(name => mapData.push({name, value: null, itemStyle: {areaColor: '#fff', borderColor: '#e6e6e6', borderWidth: 0.6}}))
paleNames.forEach(name => mapData.push({name, value: null, itemStyle: {areaColor: '#efefef', borderColor: '#efefef'}}))

const pieces = binColors.map((color, i) => ({gte: binEdges[i], lt: binEdges[i + 1], color}))

const legendSeries = binColors.map((color, i) => ({
  type: 'bar',
  stack: 'legend',
  barWidth: 8,
  silent: true,
  itemStyle: {color},
  data: [binEdges[i + 1] - binEdges[i]]
}))

const chart = echarts.init(document.getElementById('chart'))
chart.setOption({
  backgroundColor: '#ffffff',
  animation: false,
  title: {
    text: captionLines.join('\n'),
    left: 10,
    top: 616,
    textStyle: {
      fontFamily: 'Roboto',
      fontWeight: 'normal',
      fontSize: 42,
      lineHeight: 61,
      color: '#3a3a3a'
    }
  },
  visualMap: {
    show: false,
    type: 'piecewise',
    seriesIndex: 0,
    pieces
  },
  grid: {left: 139, right: 148, top: 543, height: 8},
  xAxis: {
    type: 'value',
    min: 0,
    max: 1,
    interval: 0.1,
    splitLine: {show: false},
    axisLine: {show: false},
    axisTick: {show: true, length: 6, lineStyle: {color: '#777', width: 1}},
    axisLabel: {
      margin: 10,
      fontFamily: 'Liberation Sans',
      fontSize: 14,
      color: '#444',
      formatter: v => String(Math.round(v * 10) / 10)
    }
  },
  yAxis: {type: 'category', data: ['scale'], show: false},
  series: [
    {
      type: 'map',
      map: 'world',
      aspectScale: 1,
      boundingCoords: [[-180, 90], [180, -90]],
      layoutCenter: [576, 272],
      layoutSize: 1044,
      roam: false,
      silent: true,
      label: {show: false},
      itemStyle: {areaColor: '#ffffff', borderColor: 'rgba(255,255,255,0.3)', borderWidth: 0.5},
      data: mapData
    },
    ...legendSeries
  ]
})
</script>
</body>
</html>
